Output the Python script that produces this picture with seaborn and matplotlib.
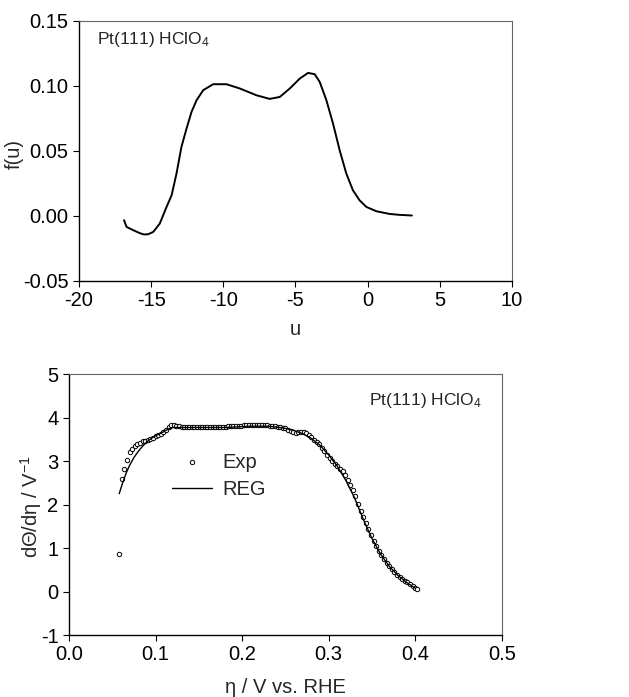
import numpy as np
import pandas as pd
import matplotlib
matplotlib.use("Agg")
import matplotlib.pyplot as plt
import seaborn as sns

# --- top panel: distribution f(u) ---
u_vals = [-16.88, -16.7, -16.24, -15.8, -15.5, -15.2, -14.85, -14.4, -13.93, -13.58,
          -13.24, -12.9, -12.55, -12.2, -11.85, -11.39, -10.7, -9.78, -8.85, -7.7,
          -6.78, -6.08, -5.39, -4.7, -4.12, -3.66, -3.31, -2.85, -2.39, -1.93,
          -1.47, -1.01, -0.55, -0.08, 0.61, 1.53, 2.22, 3.08]
f_vals = [-0.0033, -0.0085, -0.011, -0.0132, -0.0143, -0.0141, -0.0123, -0.0059, 0.0069, 0.0159,
          0.0326, 0.053, 0.067, 0.080, 0.089, 0.0967, 0.1013, 0.1013, 0.098, 0.0928,
          0.090, 0.0915, 0.098, 0.1056, 0.110, 0.109, 0.103, 0.089, 0.071, 0.0505,
          0.0326, 0.0197, 0.012, 0.0069, 0.0036, 0.0015, 0.0008, 0.0003]

# --- bottom panel: experimental points ---
eta_exp = [0.058, 0.061, 0.064, 0.067, 0.070, 0.073, 0.076, 0.079, 0.082, 0.085,
           0.088, 0.091, 0.094, 0.097, 0.100, 0.103, 0.106, 0.109, 0.112, 0.115,
           0.118, 0.121, 0.124, 0.127, 0.130, 0.133, 0.136, 0.139, 0.142, 0.145,
           0.148, 0.151, 0.154, 0.157, 0.160, 0.163, 0.166, 0.169, 0.172, 0.175,
           0.178, 0.181, 0.184, 0.187, 0.190, 0.193, 0.196, 0.199, 0.202, 0.205,
           0.208, 0.211, 0.214, 0.217, 0.220, 0.223, 0.226, 0.229, 0.232, 0.235,
           0.238, 0.241, 0.244, 0.247, 0.250, 0.253, 0.256, 0.259, 0.262, 0.265,
           0.268, 0.271, 0.274, 0.277, 0.280, 0.283, 0.286, 0.289, 0.292, 0.295,
           0.298, 0.301, 0.304, 0.307, 0.310, 0.313, 0.316, 0.319, 0.322, 0.325,
           0.328, 0.331, 0.334, 0.337, 0.340, 0.343, 0.346, 0.349, 0.352, 0.355,
           0.358, 0.361, 0.364, 0.367, 0.370, 0.373, 0.376, 0.379, 0.382, 0.385,
           0.388, 0.391, 0.394, 0.397, 0.400, 0.402]
dtheta_exp = [0.86, 2.59, 2.82, 3.03, 3.20, 3.28, 3.34, 3.38, 3.42, 3.45,
              3.47, 3.49, 3.51, 3.54, 3.57, 3.60, 3.63, 3.67, 3.72, 3.78,
              3.82, 3.82, 3.81, 3.80, 3.79, 3.78, 3.78, 3.78, 3.78, 3.78,
              3.78, 3.78, 3.78, 3.78, 3.78, 3.78, 3.78, 3.78, 3.78, 3.79,
              3.79, 3.79, 3.80, 3.80, 3.80, 3.80, 3.81, 3.81, 3.82, 3.82,
              3.82, 3.82, 3.82, 3.82, 3.82, 3.82, 3.82, 3.82, 3.81, 3.81,
              3.80, 3.79, 3.78, 3.77, 3.75, 3.72, 3.69, 3.66, 3.65, 3.66,
              3.67, 3.67, 3.64, 3.60, 3.55, 3.49, 3.43, 3.38, 3.30, 3.22,
              3.14, 3.06, 3.00, 2.94, 2.88, 2.82, 2.76, 2.67, 2.57, 2.45,
              2.33, 2.20, 2.02, 1.86, 1.71, 1.57, 1.43, 1.30, 1.17, 1.05,
              0.94, 0.84, 0.75, 0.66, 0.58, 0.51, 0.45, 0.39, 0.34, 0.29,
              0.25, 0.21, 0.17, 0.13, 0.09, 0.06]

# regression curve
eta_reg = [0.058, 0.062, 0.066, 0.070, 0.075, 0.080, 0.085, 0.090, 0.095, 0.100,
           0.105, 0.110, 0.115, 0.120, 0.130, 0.140, 0.150, 0.160, 0.170, 0.180,
           0.190, 0.200, 0.210, 0.220, 0.230, 0.240, 0.250, 0.260, 0.270, 0.280,
           0.290, 0.300, 0.310, 0.320, 0.330, 0.340, 0.350, 0.360, 0.370, 0.380,
           0.390, 0.400]
dtheta_reg = [2.25, 2.50, 2.72, 2.90, 3.08, 3.22, 3.34, 3.44, 3.52, 3.58,
              3.63, 3.68, 3.74, 3.77, 3.77, 3.77, 3.77, 3.77, 3.77, 3.77,
              3.78, 3.79, 3.80, 3.80, 3.80, 3.78, 3.75, 3.70, 3.63, 3.52,
              3.36, 3.14, 2.88, 2.55, 2.15, 1.66, 1.22, 0.86, 0.58, 0.37,
              0.21, 0.08]

sns.set_style("ticks")
plt.rcParams['font.family'] = ['Liberation Sans', 'DejaVu Sans']
plt.rcParams['mathtext.default'] = 'regular'
plt.rcParams['axes.unicode_minus'] = False
FS = 14.5   # ticks / axis labels
FT = 12.5   # annotations

fig = plt.figure(figsize=(6.29, 6.97), dpi=100)
ax1 = fig.add_axes([0.1256, 0.597, 0.688, 0.373])
ax2 = fig.add_axes([0.1097, 0.0889, 0.688, 0.3745])

top = pd.DataFrame({'u': u_vals, 'f': f_vals})
sns.lineplot(data=top, x='u', y='f', ax=ax1, color='black', lw=1.4, sort=False)
ax1.set_xlim(-20, 10)
ax1.set_ylim(-0.05, 0.15)
ax1.set_xticks([-20, -15, -10, -5, 0, 5, 10])
ax1.set_yticks([-0.05, 0.0, 0.05, 0.10, 0.15])
ax1.set_yticklabels(['-0.05', '0.00', '0.05', '0.10', '0.15'])
ax1.set_xlabel('u', fontsize=FS)
ax1.set_ylabel('f(u)', fontsize=FS)
ax1.xaxis.set_label_coords(0.5, -0.15)
ax1.yaxis.set_label_coords(-0.127, 0.49)
ax1.text(0.042, 0.927, 'Pt(111) HClO$_4$', transform=ax1.transAxes,
         fontsize=FT, va='center', ha='left')

exp = pd.DataFrame({'eta': eta_exp, 'd': dtheta_exp})
reg = pd.DataFrame({'eta': eta_reg, 'd': dtheta_reg})
sns.scatterplot(data=exp, x='eta', y='d', ax=ax2, marker='o', s=10,
                facecolor='white', edgecolor='black', linewidth=0.7, label='Exp')
sns.lineplot(data=reg, x='eta', y='d', ax=ax2, color='black', lw=1.0, label='REG')
ax2.set_xlim(0, 0.5)
ax2.set_ylim(-1, 5)
ax2.set_xticks([0.0, 0.1, 0.2, 0.3, 0.4, 0.5])
ax2.set_xticklabels(['0.0', '0.1', '0.2', '0.3', '0.4', '0.5'])
ax2.set_yticks([-1, 0, 1, 2, 3, 4, 5])
ax2.set_xlabel('η / V vs. RHE', fontsize=FS)
ax2.set_ylabel('dΘ/dη / V$^{-1}$', fontsize=FS)
ax2.xaxis.set_label_coords(0.5, -0.165)
ax2.yaxis.set_label_coords(-0.058, 0.49)
ax2.text(0.954, 0.90, 'Pt(111) HClO$_4$', transform=ax2.transAxes,
         fontsize=FT, va='center', ha='right')
ax2.legend(loc='center left', bbox_to_anchor=(0.196, 0.61), frameon=False,
           fontsize=FS, handlelength=2.0, handletextpad=0.5, labelspacing=0.4,
           markerscale=1.0)

for ax in (ax1, ax2):
    ax.tick_params(axis='both', labelsize=FS, direction='out', length=4,
                   width=0.8, top=False, right=False, colors='black')
    for side in ('top', 'right'):
        ax.spines[side].set_visible(True)
        ax.spines[side].set_color('#666666')
        ax.spines[side].set_linewidth(0.8)
    for side in ('left', 'bottom'):
        ax.spines[side].set_color('black')
        ax.spines[side].set_linewidth(1.0)

fig.savefig('out.png', dpi=100)
